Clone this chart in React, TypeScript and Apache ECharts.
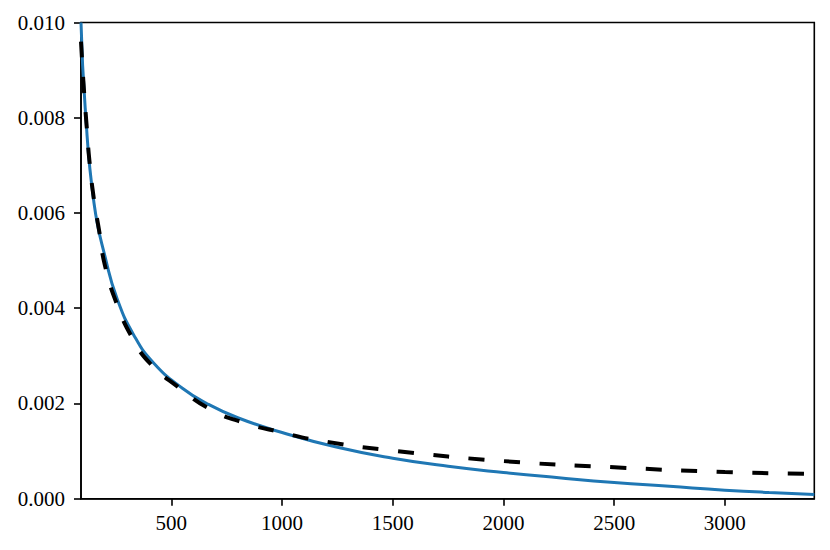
import React, { useEffect, useRef } from "react";
import * as echarts from "echarts";

// Solid (blue) curve: [x, value] pairs
const blueX = [92, 111, 151, 205, 255, 330, 420, 550, 660, 800, 1000, 1250, 1500, 1750, 2000, 2250, 2500, 2750, 3000, 3200, 3404];
const blueY = [0.0100, 0.0082, 0.0062, 0.0050, 0.0042, 0.00344, 0.00285, 0.00232, 0.00200, 0.00170, 0.00139, 0.00108, 0.00085, 0.00068, 0.00055, 0.00044, 0.00034, 0.00026, 0.00018, 0.00013, 0.00009];

// Dashed (black) curve
const dashX = [92, 105, 118, 130, 150, 175, 200, 253, 321, 402, 532, 675, 825, 1000, 1170, 1500, 2000, 2500, 3000, 3404];
const dashY = [0.0096, 0.0086, 0.0078, 0.0071, 0.0063, 0.0056, 0.0049, 0.0041, 0.0034, 0.00285, 0.00234, 0.00188, 0.00160, 0.00139, 0.00122, 0.00101, 0.00079, 0.00066, 0.00056, 0.00052];

const xTicks = [500, 1000, 1500, 2000, 2500, 3000];
const yTicks = [0, 0.002, 0.004, 0.006, 0.008, 0.01];

const FONT = "'Liberation Serif', 'DejaVu Serif', serif";

export default function App() {
  const ref = useRef<HTMLDivElement>(null);
  useEffect(() => {
    if (!ref.current) return;
    const chart = echarts.init(ref.current, undefined, { renderer: "svg" });
    const zip = (xs: number[], ys: number[]) => xs.map((x, i) => [x, ys[i]]);
    chart.setOption({
      animation: false,
      backgroundColor: "#ffffff",
      grid: {
        left: 81,
        right: 15.7,
        top: 22.5,
        bottom: 51.3,
        show: true,
        borderColor: "#000",
        borderWidth: 1.6,
        backgroundColor: "transparent",
      },
      xAxis: {
        type: "value",
        min: 92,
        max: 3404,
        splitLine: { show: false },
        axisLine: { show: true, lineStyle: { color: "#000", width: 1.6 } },
        axisTick: {
          show: true,
          customValues: xTicks,
          length: 7,
          lineStyle: { color: "#000", width: 1.6 },
        },
        axisLabel: {
          customValues: xTicks,
          color: "#000",
          fontFamily: FONT,
          fontSize: 21,
          margin: 14,
          formatter: (v: number) => String(v),
        },
      },
      yAxis: {
        type: "value",
        min: yTicks[0],
        max: yTicks[yTicks.length - 1],
        interval: 0.002,
        splitLine: { show: false },
        axisLine: { show: true, lineStyle: { color: "#000", width: 1.6 } },
        axisTick: { show: true, length: 7, lineStyle: { color: "#000", width: 1.6 } },
        axisLabel: {
          color: "#000",
          fontFamily: FONT,
          fontSize: 21,
          margin: 16,
          formatter: (v: number) => v.toFixed(3),
        },
      },
      series: [
        {
          type: "line",
          data: zip(blueX, blueY),
          showSymbol: false,
          smooth: 0.5,
          lineStyle: { color: "#1f77b4", width: 3 },
          z: 2,
        },
        {
          type: "line",
          data: zip(dashX, dashY),
          showSymbol: false,
          smooth: 0.5,
          lineStyle: { color: "#000", width: 4, type: [16, 19.5], cap: "butt" },
          z: 3,
        },
      ],
    });
    return () => chart.dispose();
  }, []);
  return (
    <div
      ref={ref}
      style={{ position: "fixed", left: 0, top: 0, width: 830, height: 550, background: "#fff" }}
    />
  );
}
